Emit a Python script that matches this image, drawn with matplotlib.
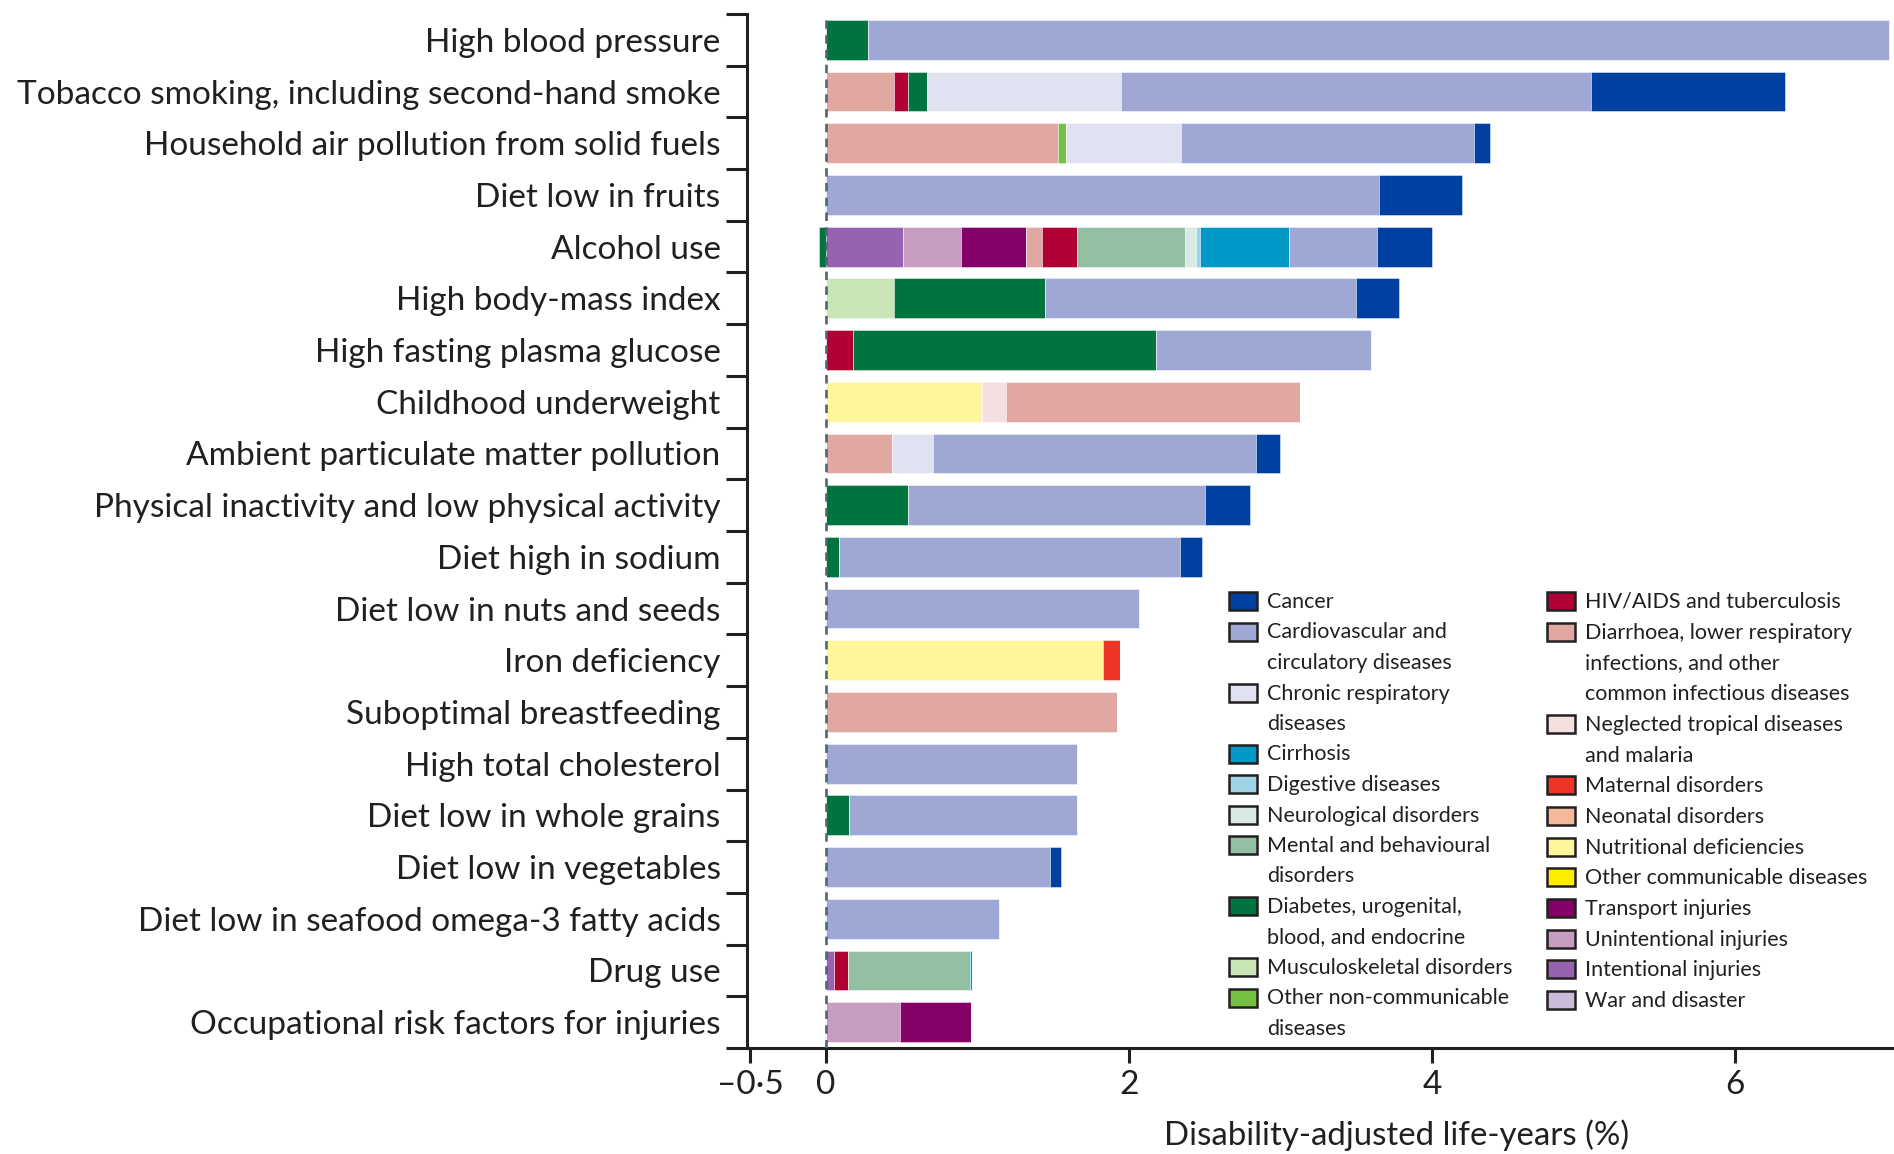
import matplotlib
matplotlib.use("Agg")
import matplotlib.pyplot as plt
from matplotlib.patches import Rectangle
from matplotlib.ticker import FixedLocator
import numpy as np

plt.rcParams['font.family'] = ['Lato', 'DejaVu Sans']
TEXT = '#231f20'

# Risk factors, top to bottom
risks = [
    "High blood pressure",
    "Tobacco smoking, including second-hand smoke",
    "Household air pollution from solid fuels",
    "Diet low in fruits",
    "Alcohol use",
    "High body-mass index",
    "High fasting plasma glucose",
    "Childhood underweight",
    "Ambient particulate matter pollution",
    "Physical inactivity and low physical activity",
    "Diet high in sodium",
    "Diet low in nuts and seeds",
    "Iron deficiency",
    "Suboptimal breastfeeding",
    "High total cholesterol",
    "Diet low in whole grains",
    "Diet low in vegetables",
    "Diet low in seafood omega-3 fatty acids",
    "Drug use",
    "Occupational risk factors for injuries",
]

# Cause groups (legend order) and their colours
causes = [
    "Cancer",
    "Cardiovascular and\ncirculatory diseases",
    "Chronic respiratory\ndiseases",
    "Cirrhosis",
    "Digestive diseases",
    "Neurological disorders",
    "Mental and behavioural\ndisorders",
    "Diabetes, urogenital,\nblood, and endocrine",
    "Musculoskeletal disorders",
    "Other non-communicable\ndiseases",
    "HIV/AIDS and tuberculosis",
    "Diarrhoea, lower respiratory\ninfections, and other\ncommon infectious diseases",
    "Neglected tropical diseases\nand malaria",
    "Maternal disorders",
    "Neonatal disorders",
    "Nutritional deficiencies",
    "Other communicable diseases",
    "Transport injuries",
    "Unintentional injuries",
    "Intentional injuries",
    "War and disaster",
]
colors = [
    "#0040a0", "#9fa8d5", "#e0e1f1", "#0099c6", "#9fd3e6", "#d9eae2",
    "#93bfa3", "#00743f", "#cbe6b6", "#74c043",
    "#b00034", "#e1a8a1", "#f6e0df", "#ee3424", "#f6b89b", "#fff59a",
    "#ffed00", "#850067", "#c69cc0", "#9563b0", "#cbbcdc",
]

# Attributable DALYs (%) per cause, one value per risk factor
cancer        = [0, 1.28, 0.11, 0.55, 0.36, 0.28, 0, 0, 0.16, 0.30, 0.14, 0, 0, 0, 0, 0, 0.07, 0, 0, 0]
cardio        = [6.74, 3.10, 1.93, 3.65, 0.58, 2.05, 1.42, 0, 2.13, 1.96, 2.25, 2.07, 0, 0, 1.66, 1.51, 1.48, 1.14, 0, 0]
chronic_resp  = [0, 1.28, 0.76, 0, 0, 0, 0, 0, 0.27, 0, 0, 0, 0, 0, 0, 0, 0, 0, 0, 0]
cirrhosis     = [0, 0, 0, 0, 0.59, 0, 0, 0, 0, 0, 0, 0, 0, 0, 0, 0, 0, 0, 0.01, 0]
digestive     = [0, 0, 0, 0, 0.024, 0, 0, 0, 0, 0, 0, 0, 0, 0, 0, 0, 0, 0, 0, 0]
neurological  = [0, 0, 0, 0, 0.076, 0, 0, 0, 0, 0, 0, 0, 0, 0, 0, 0, 0, 0, 0, 0]
mental        = [0, 0, 0, 0, 0.71, 0, 0, 0, 0, 0, 0, 0, 0, 0, 0, 0, 0, 0, 0.81, 0]
diabetes      = [0.28, 0.13, 0, 0, -0.044, 1.00, 2.00, 0, 0, 0.54, 0.09, 0, 0, 0, 0, 0.15, 0, 0, 0, 0]
musculo       = [0, 0, 0, 0, 0, 0.45, 0, 0, 0, 0, 0, 0, 0, 0, 0, 0, 0, 0, 0, 0]
other_ncd     = [0, 0, 0.05, 0, 0, 0, 0, 0, 0, 0, 0, 0, 0, 0, 0, 0, 0, 0, 0, 0]
hiv_tb        = [0, 0.09, 0, 0, 0.23, 0, 0.18, 0, 0, 0, 0, 0, 0, 0, 0, 0, 0, 0, 0.09, 0]
diarrhoea     = [0, 0.45, 1.535, 0, 0.11, 0, 0, 1.94, 0.44, 0, 0, 0, 0, 1.92, 0, 0, 0, 0, 0, 0]
ntd_malaria   = [0, 0, 0, 0, 0, 0, 0, 0.16, 0, 0, 0, 0, 0, 0, 0, 0, 0, 0, 0, 0]
maternal      = [0, 0, 0, 0, 0, 0, 0, 0, 0, 0, 0, 0, 0.11, 0, 0, 0, 0, 0, 0, 0]
neonatal      = [0] * 20
nutritional   = [0, 0, 0, 0, 0, 0, 0, 1.03, 0, 0, 0, 0, 1.83, 0, 0, 0, 0, 0, 0, 0]
other_comm    = [0] * 20
transport     = [0, 0, 0, 0, 0.43, 0, 0, 0, 0, 0, 0, 0, 0, 0, 0, 0, 0, 0, 0, 0.47]
unintentional = [0, 0, 0, 0, 0.38, 0, 0, 0, 0, 0, 0, 0, 0, 0, 0, 0, 0, 0, 0, 0.49]
intentional   = [0, 0, 0, 0, 0.51, 0, 0, 0, 0, 0, 0, 0, 0, 0, 0, 0, 0, 0, 0.055, 0]
war_disaster  = [0] * 20

values = [cancer, cardio, chronic_resp, cirrhosis, digestive, neurological, mental,
          diabetes, musculo, other_ncd, hiv_tb, diarrhoea, ntd_malaria, maternal,
          neonatal, nutritional, other_comm, transport, unintentional, intentional,
          war_disaster]

x_ticks = [-0.5, 0, 2, 4, 6]
x_ticklabels = ["\u20130\u00b75", "0", "2", "4", "6"]

W, H = 1894, 1154
fig = plt.figure(figsize=(W / 100, H / 100), dpi=100)
ax_l, ax_r, ax_t, ax_b = 747, 1894, 14, 1048
ax = fig.add_axes([ax_l / W, 1 - ax_b / H, (ax_r - ax_l) / W, (ax_b - ax_t) / H])

y = np.arange(len(risks))
pos_left = np.zeros(len(risks))
neg_left = np.zeros(len(risks))
# stack from the bottom of the legend upwards
for vals, col in zip(values[::-1], colors[::-1]):
    v = np.asarray(vals, dtype=float)
    pos = np.where(v > 0, v, 0)
    neg = np.where(v < 0, v, 0)
    if pos.any():
        ax.barh(y, pos, left=pos_left, height=0.77, color=col,
                edgecolor=(1, 1, 1, 0.5), linewidth=0.6, zorder=2)
        pos_left += pos
    if neg.any():
        ax.barh(y, neg, left=neg_left, height=0.77, color=col,
                edgecolor=(1, 1, 1, 0.5), linewidth=0.6, zorder=2)
        neg_left += neg

ax.axvline(0, color='#4f6573', lw=1.9, dashes=(3.2, 2.4), zorder=3)

ax.set_xlim(-0.52, 7.05)
ax.set_ylim(len(risks) - 0.5, -0.5)

for s in ['top', 'right']:
    ax.spines[s].set_visible(False)
for s in ['left', 'bottom']:
    ax.spines[s].set_linewidth(2.2)
    ax.spines[s].set_color(TEXT)

ax.set_yticks(y)
ax.set_yticklabels(risks, fontsize=24, color=TEXT)
ax.yaxis.set_minor_locator(FixedLocator(np.arange(-0.5, len(risks), 1.0)))
ax.tick_params(axis='y', which='major', length=0, pad=19)
ax.tick_params(axis='y', which='minor', length=15, width=2.2, color=TEXT)

ax.set_xticks(x_ticks)
ax.set_xticklabels(x_ticklabels, fontsize=24, color=TEXT)
ax.tick_params(axis='x', which='major', length=11, width=2.2, color=TEXT, pad=5)

ax.set_xlabel("Disability-adjusted life-years (%)", fontsize=23.8, color=TEXT)
ax.xaxis.set_label_coords((1397 - ax_l) / (ax_r - ax_l), -(1135 - ax_b) / (ax_b - ax_t))
ax.xaxis.label.set_va('center')


# Legend drawn in two columns in figure pixels
def fx(px):
    return px / W


def fy(py):
    return 1 - py / H


def draw_legend_column(idx, patch_x, text_x, top_y, step):
    line = 0
    for i in idx:
        cy = top_y + line * step
        fig.patches.append(Rectangle((fx(patch_x), fy(cy + 9)), fx(28), 18 / H,
                                     transform=fig.transFigure, facecolor=colors[i],
                                     edgecolor='#231f20', linewidth=1.8))
        for part in causes[i].split("\n"):
            ly = top_y + line * step
            fig.text(fx(text_x), fy(ly + 7), part, fontsize=15.5, color=TEXT,
                     ha='left', va='baseline')
            line += 1


draw_legend_column(range(0, 10), 1229, 1267, 601, 30.5)
draw_legend_column(range(10, 21), 1547, 1585, 601, 30.7)

fig.savefig("out.png", dpi=100)
